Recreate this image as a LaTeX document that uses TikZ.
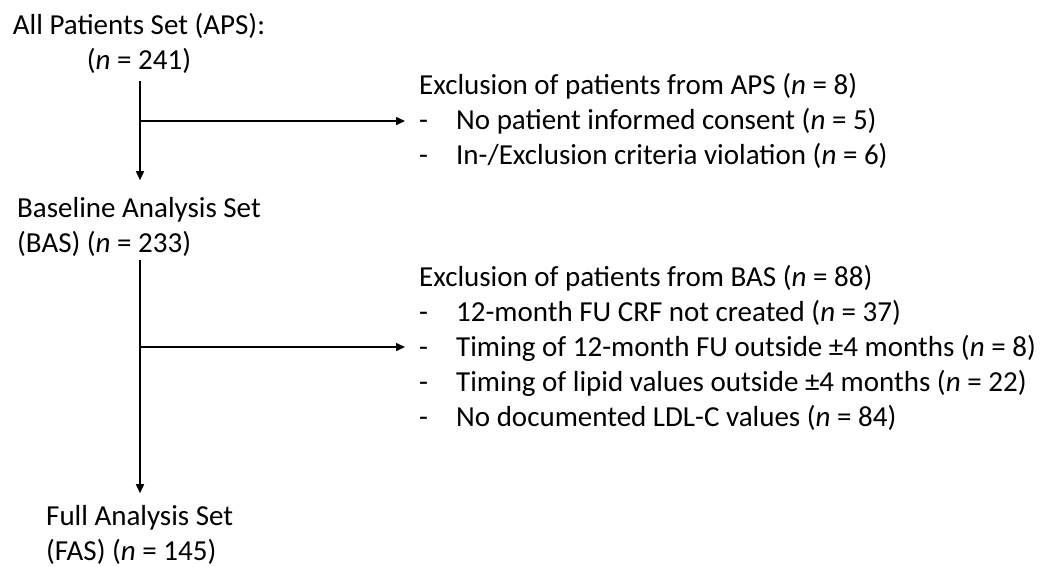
\documentclass[tikz,border=0pt]{standalone}
\usepackage{fontspec}
\setmainfont{Carlito}
\usetikzlibrary{arrows.meta}
\tikzset{
  setlabel/.style={inner sep=0pt, font=\fontsize{29}{35}\selectfont},
  exclist/.style={inner sep=0pt, anchor=west, align=left, font=\fontsize{29}{35}\selectfont},
  flow/.style={line width=1.5pt, -{Triangle[length=9pt,width=8pt]}}
}
\newcommand{\nn}{\textit{n}}
\newcommand{\excitem}[1]{\makebox[37pt][l]{-}#1}
\begin{document}
\begin{tikzpicture}[x=1pt,y=-1pt]
  \useasboundingbox (0,0) rectangle (1046,566);
  % the three sets
  \node[setlabel, align=center] (aps) at (139,43) {All Patients Set (APS):\\(\nn{} = 241)};
  \node[setlabel, align=left, anchor=west] (bas) at (17,227) {Baseline Analysis Set\\(BAS) (\nn{} = 233)};
  \node[setlabel, align=left, anchor=west] (fas) at (46,535) {Full Analysis Set\\(FAS) (\nn{} = 145)};
  % exclusions
  \node[exclist] (exaps) at (419,121) {Exclusion of patients from APS (\nn{} = 8)\\
    \excitem{No patient informed consent (\nn{} = 5)}\\
    \excitem{In-/Exclusion criteria violation (\nn{} = 6)}};
  \node[exclist] (exbas) at (419,348) {Exclusion of patients from BAS (\nn{} = 88)\\
    \excitem{12-month FU CRF not created (\nn{} = 37)}\\
    \excitem{Timing of 12-month FU outside ±4 months (\nn{} = 8)}\\
    \excitem{Timing of lipid values outside ±4 months (\nn{} = 22)}\\
    \excitem{No documented LDL-C values (\nn{} = 84)}};
  \coordinate (split1) at (140,121);
  \coordinate (split2) at (140,347);
  % arrows
  \draw[flow, shorten <=8pt, shorten >=17pt] (aps.south -| split1) -- (bas.north -| split1);
  \draw[flow, shorten >=14pt] (split1) -- (exaps.west |- split1);
  \draw[flow, shorten <=3pt, shorten >=12pt] (bas.south -| split2) -- (fas.north -| split2);
  \draw[flow, shorten >=14pt] (split2) -- (exbas.west |- split2);
\end{tikzpicture}
\end{document}
